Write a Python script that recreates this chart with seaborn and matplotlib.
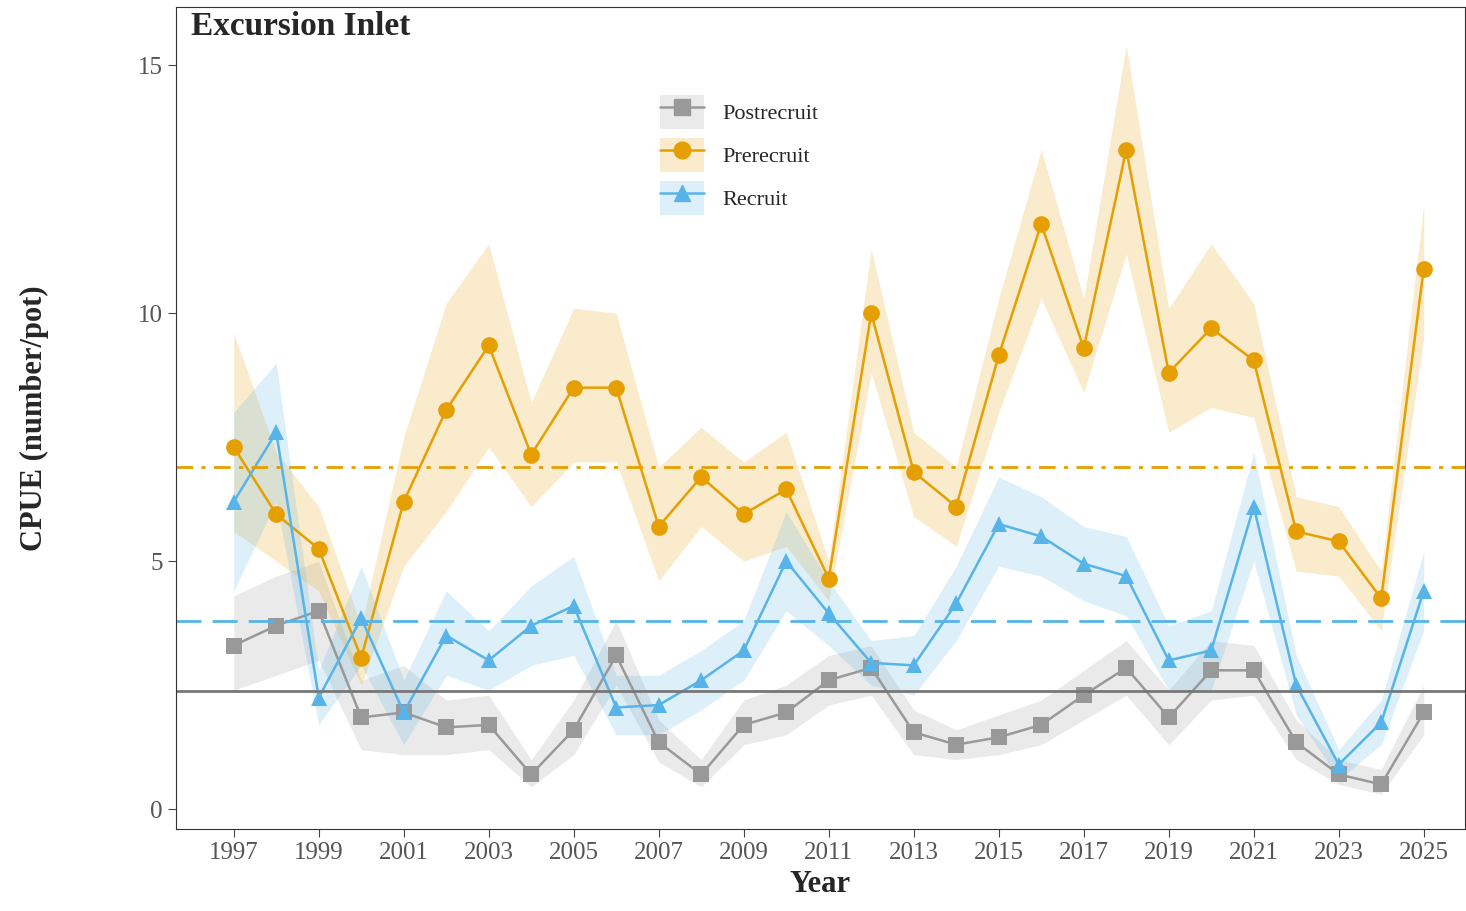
import numpy as np
import pandas as pd
import seaborn as sns
import matplotlib.pyplot as plt
from matplotlib.lines import Line2D
from matplotlib.patches import Patch

years = list(range(1997, 2026))

pre = [7.3, 5.95, 5.25, 3.05, 6.2, 8.05, 9.35, 7.15, 8.5, 8.5, 5.7, 6.7, 5.95, 6.45, 4.65,
       10.0, 6.8, 6.1, 9.15, 11.8, 9.3, 13.3, 8.8, 9.7, 9.05, 5.6, 5.4, 4.25, 10.9]
pre_lo = [5.6, 5.0, 4.4, 2.5, 4.9, 6.0, 7.3, 6.1, 7.0, 7.0, 4.6, 5.7, 5.0, 5.3, 4.2,
          8.8, 5.9, 5.3, 8.0, 10.3, 8.4, 11.2, 7.6, 8.1, 7.9, 4.8, 4.7, 3.6, 9.5]
pre_hi = [9.6, 7.2, 6.1, 3.7, 7.5, 10.2, 11.4, 8.2, 10.1, 10.0, 6.9, 7.7, 7.0, 7.6, 5.0,
          11.3, 7.6, 6.9, 10.3, 13.3, 10.3, 15.4, 10.1, 11.4, 10.2, 6.3, 6.1, 4.8, 12.2]

rec = [6.2, 7.6, 2.25, 3.85, 1.95, 3.5, 3.0, 3.7, 4.1, 2.05, 2.1, 2.6, 3.2, 5.0, 3.95,
       2.95, 2.9, 4.15, 5.75, 5.5, 4.95, 4.7, 3.0, 3.2, 6.1, 2.5, 0.9, 1.75, 4.4]
rec_lo = [4.4, 6.2, 1.7, 2.9, 1.3, 2.7, 2.4, 2.9, 3.1, 1.5, 1.5, 2.0, 2.6, 4.0, 3.3,
          2.5, 2.3, 3.4, 4.9, 4.7, 4.2, 3.9, 2.4, 2.4, 5.0, 1.9, 0.6, 1.3, 3.6]
rec_hi = [8.0, 9.0, 2.8, 4.9, 2.6, 4.4, 3.6, 4.5, 5.1, 2.7, 2.7, 3.2, 3.8, 6.0, 4.6,
          3.4, 3.5, 4.9, 6.7, 6.3, 5.7, 5.5, 3.7, 4.0, 7.2, 3.1, 1.2, 2.2, 5.2]

post = [3.3, 3.7, 4.0, 1.85, 1.95, 1.65, 1.7, 0.7, 1.6, 3.1, 1.35, 0.7, 1.7, 1.95, 2.6,
        2.85, 1.55, 1.3, 1.45, 1.7, 2.3, 2.85, 1.85, 2.8, 2.8, 1.35, 0.7, 0.5, 1.95]
post_lo = [2.4, 2.7, 3.0, 1.2, 1.1, 1.1, 1.2, 0.45, 1.1, 2.5, 0.95, 0.45, 1.3, 1.5, 2.1,
           2.3, 1.1, 1.0, 1.1, 1.3, 1.8, 2.3, 1.3, 2.2, 2.3, 1.0, 0.5, 0.3, 1.5]
post_hi = [4.3, 4.7, 5.0, 2.6, 2.9, 2.2, 2.3, 1.0, 2.2, 3.8, 1.8, 1.0, 2.2, 2.5, 3.1,
           3.3, 2.0, 1.6, 1.9, 2.2, 2.8, 3.4, 2.4, 3.4, 3.3, 1.8, 1.0, 0.8, 2.5]

means = {'Postrecruit': 2.38, 'Prerecruit': 6.9, 'Recruit': 3.8}

groups = ['Postrecruit', 'Prerecruit', 'Recruit']
colors = {'Postrecruit': '#999999', 'Prerecruit': '#E69F00', 'Recruit': '#56B4E9'}
markers = {'Postrecruit': 's', 'Prerecruit': 'o', 'Recruit': '^'}
mean_ls = {'Postrecruit': '-', 'Prerecruit': (0, (6, 3, 1.5, 3)), 'Recruit': (0, (9, 4))}

df = pd.concat([
    pd.DataFrame({'Year': years, 'CPUE': v, 'lo': lo, 'hi': hi, 'Stage': g})
    for g, v, lo, hi in [('Postrecruit', post, post_lo, post_hi),
                         ('Prerecruit', pre, pre_lo, pre_hi),
                         ('Recruit', rec, rec_lo, rec_hi)]
])

sns.set_style('ticks')
plt.rcParams['font.family'] = ['Liberation Serif', 'DejaVu Serif']

fig, ax = plt.subplots(figsize=(14.66, 9.11), dpi=100)

for g in groups:
    d = df[df['Stage'] == g]
    ax.fill_between(d['Year'], d['lo'], d['hi'], color=colors[g], alpha=0.2, lw=0)
sns.lineplot(data=df, x='Year', y='CPUE', hue='Stage', style='Stage', palette=colors,
             markers=markers, dashes=False, markersize=12, markeredgewidth=0, lw=1.8,
             ax=ax, legend=False)
for g in groups:
    ax.axhline(means[g], color=colors[g] if g != 'Postrecruit' else '#777777',
               ls=mean_ls[g], lw=2)

# legend
handles = [(Patch(color=colors[g], alpha=0.2, lw=0),
            Line2D([], [], color=colors[g], marker=markers[g], markersize=12, lw=1.8))
           for g in groups]
ax.legend(handles, groups, loc='upper left', bbox_to_anchor=(0.36, 0.918),
          frameon=False, fontsize=16, handlelength=2, handleheight=2, labelspacing=0.4)

ax.text(0.012, 0.995, 'Excursion Inlet', transform=ax.transAxes, fontsize=24,
        fontweight='bold', va='top')
ax.set_xlim(1995.64, 2025.96)
ax.set_ylim(-0.4, 16.17)
ax.set_xticks(list(range(1997, 2026, 2)))
ax.set_yticks([0, 5, 10, 15])
ax.tick_params(labelsize=18, colors='#444444', length=6)
for lab in ax.get_xticklabels() + ax.get_yticklabels():
    lab.set_color('#555555')
ax.set_xlabel('Year', fontsize=22, fontweight='bold')
ax.set_ylabel('CPUE (number/pot)', fontsize=22, fontweight='bold', labelpad=64)
for s in ax.spines.values():
    s.set_color('#333333')

plt.subplots_adjust(left=0.12, right=0.999, top=0.992, bottom=0.09)
plt.savefig('out.png', dpi=100)
